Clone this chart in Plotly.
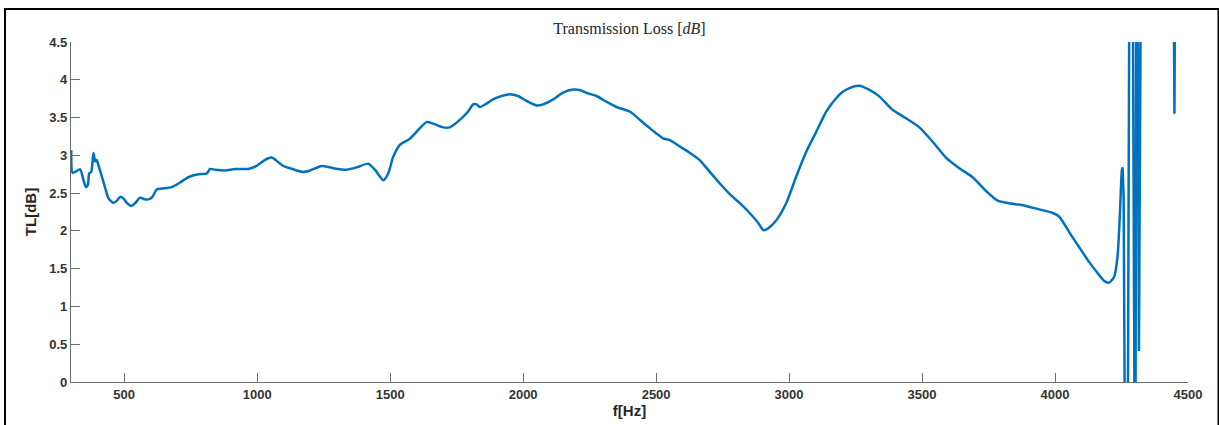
import plotly.graph_objects as go

# Frequency [Hz] and transmission loss [dB]
freq = [300.8, 305.6, 315.8, 334.6, 347, 356, 363.5, 368.4, 376, 384.5, 391, 397, 403, 416,
        428.5, 441, 459.7, 472.4, 484.8, 497, 510, 526, 541, 560, 576, 594, 606, 623, 641.5,
        679, 710, 741, 779, 810.5, 823, 842, 879, 917, 967, 998, 1030, 1054.7, 1098, 1136,
        1173, 1198.6, 1242.5, 1286, 1336.5, 1374, 1417.6, 1442.8, 1474, 1492.7, 1511.5,
        1536.6, 1574, 1612, 1637, 1662, 1699, 1724, 1762, 1793, 1812, 1825, 1837, 1856,
        1887, 1919, 1950, 1981, 2013, 2050, 2075, 2113, 2150, 2188, 2213, 2244, 2276, 2313,
        2351, 2401, 2439, 2476, 2501, 2526, 2551, 2588, 2626, 2663, 2695, 2739, 2776, 2814,
        2851, 2883, 2904, 2920, 2952, 2989, 3027, 3065, 3102, 3140, 3177, 3202, 3227, 3264,
        3302, 3339, 3390, 3440, 3490, 3540, 3590, 3640, 3690, 3740, 3784, 3828, 3878, 3940,
        3990, 4015, 4065, 4128, 4165, 4184, 4203.5, 4222, 4235, 4244, 4251.5, 4254, 4258,
        4266, 4271.5, 4283, 4288.4, 4301.6, 4307.2, 4315.5, 4328, 4440, 4449, 4456, 4500]
tl = [3.07, 2.77, 2.78, 2.815, 2.67, 2.58, 2.61, 2.76, 2.78, 3.03, 2.92, 2.94, 2.87, 2.72,
      2.57, 2.43, 2.37, 2.40, 2.45, 2.43, 2.37, 2.33, 2.365, 2.44, 2.42, 2.42, 2.45, 2.55, 2.56,
      2.58, 2.64, 2.71, 2.75, 2.76, 2.82, 2.81, 2.80, 2.82, 2.82, 2.86, 2.94, 2.97, 2.86, 2.815,
      2.78, 2.80, 2.86, 2.83, 2.81, 2.84, 2.89, 2.81, 2.67, 2.76, 2.98,
      3.14, 3.22, 3.36, 3.44, 3.42, 3.37, 3.37, 3.47, 3.58, 3.675, 3.675, 3.64, 3.67,
      3.74, 3.785, 3.81, 3.785, 3.72, 3.66, 3.675, 3.74, 3.83, 3.87, 3.865, 3.82, 3.785, 3.71,
      3.64, 3.58, 3.47, 3.36, 3.29, 3.225, 3.20, 3.12, 3.035, 2.94, 2.81, 2.63, 2.49, 2.37,
      2.24, 2.11, 2.01, 2.03, 2.14, 2.365, 2.72, 3.05, 3.31, 3.58, 3.755, 3.84, 3.89, 3.92,
      3.865, 3.78, 3.60, 3.49, 3.37, 3.18, 2.97, 2.83, 2.71, 2.53, 2.40, 2.365, 2.34, 2.285,
      2.24, 2.19, 1.92, 1.59, 1.42, 1.34, 1.315, 1.39, 1.66, 2.23, 2.81, 2.84, 2.45,
      -3, -3, 9, 9, -3, 9, 0.41, 9, 9, 3.55, 9, 9]

x_ticks = [500, 1000, 1500, 2000, 2500, 3000, 3500, 4000, 4500]
y_ticks = [0, 0.5, 1, 1.5, 2, 2.5, 3, 3.5, 4, 4.5]

W, H = 1219, 425
ml, mr, mt, mb = 71, 31, 42, 43
pw, ph = W - ml - mr, H - mt - mb

def px_x(px):
    return (px - ml) / pw

def px_y(py):
    return (H - mb - py) / ph

# smooth part up to the last resonance peak, then the raw divergent tail
split = freq.index(4254) + 1

fig = go.Figure()
fig.add_trace(go.Scatter(x=freq[:split], y=tl[:split], mode="lines",
                         line=dict(color="#0072BD", width=2.5, shape="spline", smoothing=0.6),
                         showlegend=False))
fig.add_trace(go.Scatter(x=freq[split - 1:], y=tl[split - 1:], mode="lines",
                         line=dict(color="#0072BD", width=2.5), showlegend=False))

axis_col = "#6e6e6e"
tick_font = dict(family="Liberation Sans, Arial, sans-serif", size=13, color="#333333",
                 weight="bold")
lab_font = dict(family="Liberation Sans, Arial, sans-serif", size=15, color="#262626")

fig.update_layout(
    width=W, height=H,
    margin=dict(l=ml, r=mr, t=mt, b=mb, autoexpand=False),
    paper_bgcolor="white", plot_bgcolor="white",
    title=dict(text="Transmission Loss [<i>dB</i>]", x=0.5, xref="paper",
               y=1 - 28 / H, yanchor="middle",
               font=dict(family="Liberation Serif, Times New Roman, serif", size=16,
                         color="#262626")),
    xaxis=dict(range=[300, 4500], tickvals=x_ticks, ticks="inside", ticklen=9,
               tickcolor=axis_col, tickwidth=1, showline=True, linecolor=axis_col,
               linewidth=1.2, showgrid=False, zeroline=False, tickfont=tick_font,
               automargin=False,
               title=dict(text="<b>f[Hz]</b>", standoff=4, font=lab_font)),
    yaxis=dict(range=[0, 4.5], tickvals=y_ticks, ticks="inside", ticklen=9,
               tickcolor=axis_col, tickwidth=1, showline=True, linecolor=axis_col,
               linewidth=1.2, showgrid=False, zeroline=False, tickfont=tick_font,
               automargin=False,
               title=dict(text="<b>TL[dB]</b>", standoff=8, font=lab_font)),
)

# outer black frame of the figure
fig.add_shape(type="rect", xref="paper", yref="paper",
              x0=px_x(5), x1=px_x(1218.5), y0=px_y(440), y1=px_y(9),
              line=dict(color="black", width=2), fillcolor="rgba(0,0,0,0)", layer="above")

fig.write_html("out.html", config={"displayModeBar": False},
               post_script="document.body.style.margin='0';document.body.style.overflow='hidden';")
